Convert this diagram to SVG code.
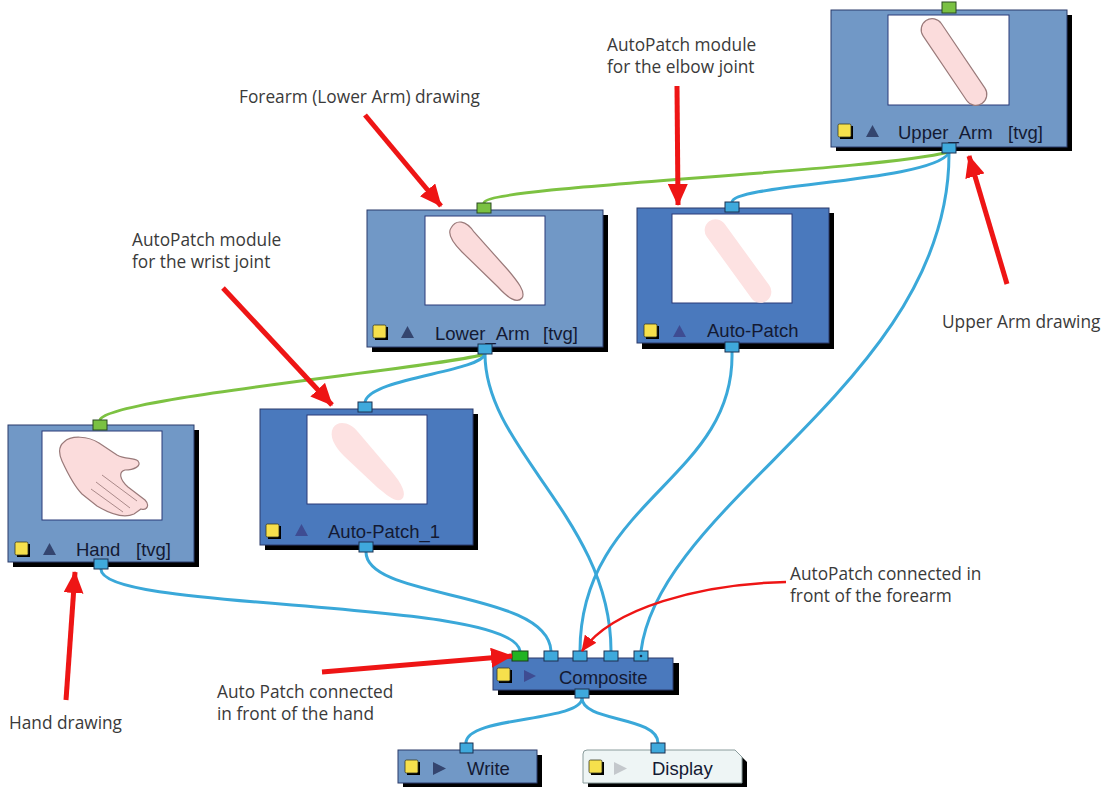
<svg xmlns="http://www.w3.org/2000/svg" width="1105" height="787" viewBox="0 0 1105 787">
  <defs>
    <style>
      .node-lt { fill: #7198c6; stroke: #2a3a6a; stroke-width: 1; }
      .node-dk { fill: #4a79bd; stroke: #2a3a6a; stroke-width: 1; }
      .shadow { fill: #000; }
      .thumb { fill: #fff; stroke: #2a3a78; stroke-width: 1; }
      .port { fill: #3fa9dc; stroke: #1c3050; stroke-width: 1; }
      .port-g { fill: #7ac142; stroke: #2a4a20; stroke-width: 1; }
      .port-g2 { fill: #22b322; stroke: #1a3a1a; stroke-width: 1; }
      .lbl { font-family: "Liberation Sans", Arial, sans-serif; font-size: 18.5px; fill: #141a33; }
      .note { font-family: "Open Sans", "Liberation Sans", sans-serif; font-size: 17.3px; fill: #3a3a3a; }
      .ylw { fill: #f6e04c; stroke: #3a3a20; stroke-width: 0.8; }
      .tri-lt { fill: #34456f; }
      .tri-dk { fill: #3e4c92; }
      .wire-b { fill: none; stroke: #3aa8d9; stroke-width: 3; }
      .wire-g { fill: none; stroke: #7dc242; stroke-width: 3; }
      .red { fill: none; stroke: #ee1515; stroke-width: 5; }
      .red-thin { fill: none; stroke: #ee1515; stroke-width: 2.5; }
      .arm { fill: #fbdcdc; stroke: #9a7a7a; stroke-width: 1.2; }
      .ghost { fill: #fde2e2; }
    </style>
    <marker id="head" viewBox="0 0 22 20" markerWidth="22" markerHeight="20" refX="21" refY="10" orient="auto" markerUnits="userSpaceOnUse">
      <path d="M0,0 L22,10 L0,20 Z" fill="#ee1515"/>
    </marker>
    <marker id="head-sm" viewBox="0 0 16 14" markerWidth="16" markerHeight="14" refX="15" refY="7" orient="auto" markerUnits="userSpaceOnUse">
      <path d="M0,0 L16,7 L0,14 Z" fill="#ee1515"/>
    </marker>
    <!-- view toggle icon: yellow square with drop shadow -->
    <g id="enable">
      <rect x="2" y="2" width="13" height="13" fill="#000"/>
      <rect x="0" y="0" width="13" height="13" rx="1.5" class="ylw"/>
    </g>
  </defs>

  <rect width="1105" height="787" fill="#fff"/>

  <!-- connectors -->
  <g id="connectors">
    <path class="wire-g" d="M484,203 C484,186 870,172 949,152"/>
    <path class="wire-g" d="M100,420 C106,398 440,368 485,354"/>
    <path class="wire-b" d="M732,202 C734,184 930,182 949,153"/>
    <path class="wire-b" d="M949,153 C950,380 660,500 641,651"/>
    <path class="wire-b" d="M732,352 C735,480 580,500 580,651"/>
    <path class="wire-b" d="M485,354 C480,372 370,378 365,402"/>
    <path class="wire-b" d="M485,354 C485,450 611,520 611,651"/>
    <path class="wire-b" d="M366,552 C366,600 548,590 551,651"/>
    <path class="wire-b" d="M101,569 C100,612 512,598 520,651"/>
    <path class="wire-b" d="M582,698 C582,722 466,716 466,743"/>
    <path class="wire-b" d="M582,698 C582,722 658,716 658,743"/>
  </g>

  <!-- Upper_Arm -->
  <g id="upper-arm">
    <rect class="shadow" x="836" y="15" width="236" height="136"/>
    <rect class="node-lt" x="831" y="10" width="236" height="137"/>
    <rect class="thumb" x="888" y="15" width="121" height="90"/>
    <rect class="arm" x="904" y="51" width="100" height="22" rx="11" transform="rotate(56 954 62)"/>
    <use href="#enable" x="838" y="124"/>
    <path class="tri-lt" d="M866,137 L872.5,125 L879,137 Z"/>
    <text class="lbl" x="898" y="139">Upper_Arm</text>
    <text class="lbl" x="1008" y="139">[tvg]</text>
    <rect class="port-g" x="942" y="2" width="14" height="11"/>
    <rect class="port" x="942" y="143" width="14" height="10"/>
  </g>

  <!-- Lower_Arm -->
  <g id="lower-arm">
    <rect class="shadow" x="372" y="215" width="236" height="137"/>
    <rect class="node-lt" x="367" y="210" width="236" height="137"/>
    <rect class="thumb" x="425" y="216" width="120" height="89"/>
    <path class="arm" d="M451,228 C456,219 466,220 474,232 L508,270 C518,282 526,292 522,298 C517,304 508,298 498,287 L462,252 C452,242 447,234 451,228 Z"/>
    <use href="#enable" x="373" y="325"/>
    <path class="tri-lt" d="M401,338 L407.5,326 L414,338 Z"/>
    <text class="lbl" x="435" y="340">Lower_Arm</text>
    <text class="lbl" x="543" y="340">[tvg]</text>
    <rect class="port-g" x="477" y="203" width="14" height="10"/>
    <rect class="port" x="478" y="344" width="14" height="10"/>
  </g>

  <!-- Auto-Patch (elbow) -->
  <g id="auto-patch">
    <rect class="shadow" x="642" y="213" width="192" height="136"/>
    <rect class="node-dk" x="637" y="208" width="192" height="135"/>
    <rect class="thumb" x="672" y="214" width="120" height="89"/>
    <rect class="ghost" x="689" y="250" width="98" height="22" rx="11" transform="rotate(54 738 261)"/>
    <use href="#enable" x="644" y="324"/>
    <path class="tri-dk" d="M673,337 L679.5,325 L686,337 Z"/>
    <text class="lbl" x="707" y="337">Auto-Patch</text>
    <rect class="port" x="725" y="202" width="14" height="10"/>
    <rect class="port" x="725" y="342" width="14" height="10"/>
  </g>

  <!-- Hand -->
  <g id="hand">
    <rect class="shadow" x="13" y="430" width="186" height="137"/>
    <rect class="node-lt" x="8" y="425" width="186" height="137"/>
    <rect class="thumb" x="42" y="431" width="120" height="89"/>
    <path class="arm" d="M64,442 C71,435 88,436 99,443 L117,455 C126,460 133,457 138,461 C142,466 134,470 125,470 C118,472 120,480 128,487 L145,500 C150,505 147,511 141,509 L134,514 C125,518 112,515 97,506 L82,494 C74,486 68,474 62,461 C58,452 59,446 64,442 Z"/>
    <path d="M96,482 L130,508 M91,489 L123,512 M102,475 L137,501" fill="none" stroke="#a08080" stroke-width="0.9"/>
    <use href="#enable" x="15" y="542"/>
    <path class="tri-lt" d="M43,555 L49.5,543 L56,555 Z"/>
    <text class="lbl" x="76" y="556">Hand</text>
    <text class="lbl" x="136" y="556">[tvg]</text>
    <rect class="port-g" x="93" y="420" width="14" height="10"/>
    <rect class="port" x="94" y="559" width="14" height="10"/>
  </g>

  <!-- Auto-Patch_1 (wrist) -->
  <g id="auto-patch-1">
    <rect class="shadow" x="265" y="414" width="213" height="136"/>
    <rect class="node-dk" x="260" y="409" width="213" height="136"/>
    <rect class="thumb" x="307" y="415" width="120" height="89"/>
    <path class="ghost" d="M333,428 C338,420 350,422 358,432 L392,472 C402,484 407,494 402,499 C396,503 388,496 378,488 L344,456 C334,446 329,436 333,428 Z"/>
    <use href="#enable" x="266" y="524"/>
    <path class="tri-dk" d="M295,536 L301.5,524 L308,536 Z"/>
    <text class="lbl" x="328" y="538">Auto-Patch_1</text>
    <rect class="port" x="358" y="402" width="14" height="10"/>
    <rect class="port" x="359" y="542" width="14" height="10"/>
  </g>

  <!-- Composite -->
  <g id="composite">
    <rect class="shadow" x="498" y="663" width="181" height="32"/>
    <rect class="node-dk" x="493" y="658" width="180" height="32"/>
    <use href="#enable" x="497" y="668"/>
    <path class="tri-dk" d="M524,670 L536,676 L524,682 Z"/>
    <text class="lbl" x="559" y="684">Composite</text>
    <rect class="port-g2" x="512" y="651" width="16" height="10"/>
    <rect class="port" x="544" y="651" width="14" height="10"/>
    <rect class="port" x="573" y="651" width="14" height="10"/>
    <rect class="port" x="604" y="651" width="14" height="10"/>
    <rect class="port" x="634" y="651" width="14" height="10"/>
    <circle cx="641" cy="656" r="1.3" fill="#1c3050"/>
    <rect class="port" x="575" y="689" width="14" height="9"/>
  </g>

  <!-- Write -->
  <g id="write">
    <rect class="shadow" x="403" y="755" width="139" height="32"/>
    <rect class="node-lt" x="398" y="750" width="139" height="33"/>
    <use href="#enable" x="405" y="760"/>
    <path class="tri-lt" d="M433,762 L446,768.5 L433,775 Z"/>
    <text class="lbl" x="467" y="775">Write</text>
    <rect class="port" x="460" y="743" width="13" height="10"/>
  </g>

  <!-- Display -->
  <g id="display">
    <path class="shadow" d="M588,755 L740,755 L747,762 L747,787 L588,787 Z"/>
    <path d="M583,754 Q583,750 587,750 L735,750 L742,757 L742,783 L583,783 Z" fill="#eef5f5" stroke="#8a9c9c" stroke-width="1"/>
    <use href="#enable" x="589" y="760"/>
    <path d="M614,762 L627,768.5 L614,775 Z" fill="#c4c8cc"/>
    <text class="lbl" x="652" y="775">Display</text>
    <rect class="port" x="651" y="743" width="14" height="10"/>
  </g>

  <!-- callouts -->
  <g id="callouts">
    <path class="red" d="M365,115 L441,206" marker-end="url(#head)"/>
    <path class="red" d="M677,86 L678,205" marker-end="url(#head)"/>
    <path class="red" d="M1007,284 L969,156" marker-end="url(#head)"/>
    <path class="red" d="M223,288 L332,405" marker-end="url(#head)"/>
    <path class="red" d="M66,700 L75,572" marker-end="url(#head)"/>
    <path class="red" d="M322,672 L512,656" marker-end="url(#head)"/>
    <path class="red-thin" d="M786,582 C700,584 612,608 582,651" marker-end="url(#head-sm)"/>

    <text class="note" x="239" y="103">Forearm (Lower Arm) drawing</text>
    <text class="note" x="607" y="51">AutoPatch module</text>
    <text class="note" x="607" y="73">for the elbow joint</text>
    <text class="note" x="942" y="328">Upper Arm drawing</text>
    <text class="note" x="132" y="246">AutoPatch module</text>
    <text class="note" x="132" y="268">for the wrist joint</text>
    <text class="note" x="9" y="729">Hand drawing</text>
    <text class="note" x="217" y="698">Auto Patch connected</text>
    <text class="note" x="217" y="720">in front of the hand</text>
    <text class="note" x="790" y="580">AutoPatch connected in</text>
    <text class="note" x="790" y="602">front of the forearm</text>
  </g>
</svg>
